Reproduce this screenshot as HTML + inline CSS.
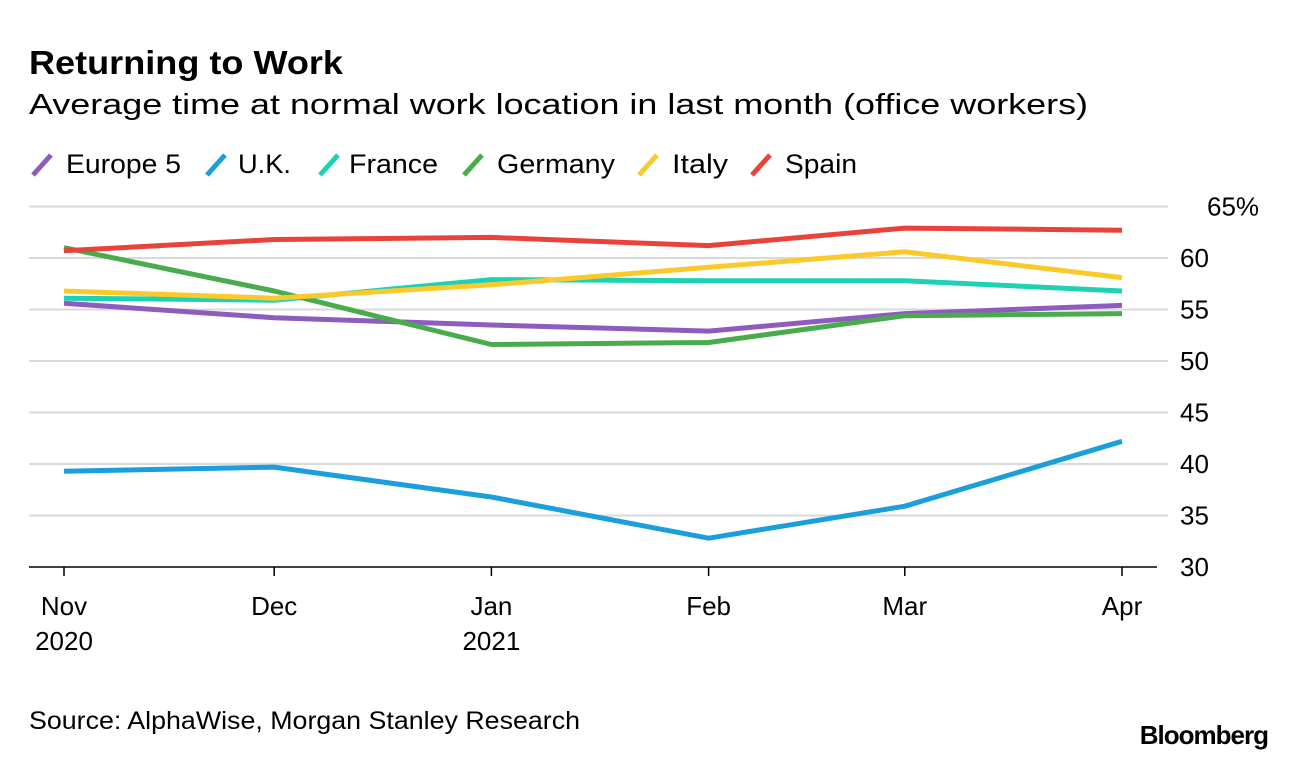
<!DOCTYPE html>
<html><head><meta charset="utf-8"><style>
html,body{margin:0;padding:0;background:#fff;width:1296px;height:760px;overflow:hidden;font-family:"Liberation Sans",Arial,sans-serif;color:#000}
</style></head><body>
<svg width="1296" height="760" xmlns="http://www.w3.org/2000/svg" font-family="Liberation Sans, Arial, sans-serif">
<text x="29" y="74" font-size="33" font-weight="bold" textLength="314" lengthAdjust="spacingAndGlyphs">Returning to Work</text>
<text x="29" y="114" font-size="29" textLength="1059" lengthAdjust="spacingAndGlyphs">Average time at normal work location in last month (office workers)</text>
<g id="legend"></g>
<g id="grid"></g>
<g id="axes"></g>
<g id="lines"></g>
<text x="29" y="729" font-size="25" textLength="551" lengthAdjust="spacingAndGlyphs">Source: AlphaWise, Morgan Stanley Research</text>
<text x="1268" y="744" font-size="26" font-weight="bold" text-anchor="end" letter-spacing="-1">Bloomberg</text>
</svg>
<script>
const months = ["Nov","Dec","Jan","Feb","Mar","Apr"];
const years = ["2020","","2021","","",""];
const dayOffsets = [0,30,61,92,120,151];
const yTicks = [30,35,40,45,50,55,60,65];
const seriesNames = ["Europe 5","U.K.","France","Germany","Italy","Spain"];
const seriesColors = ["#8e5bbf","#1a9fdc","#1cd2b2","#4aab4c","#fcc92c","#e8423a"];
const europe5 = [55.6,54.2,53.5,52.9,54.6,55.4];
const uk = [39.3,39.7,36.8,32.8,35.9,42.2];
const france = [56.1,55.9,57.9,57.8,57.8,56.8];
const germany = [61.0,56.8,51.6,51.8,54.4,54.6];
const italy = [56.8,56.1,57.4,59.1,60.6,58.1];
const spain = [60.7,61.8,62.0,61.2,62.9,62.7];
const allSeries = [europe5,uk,france,germany,italy,spain];

const NS="http://www.w3.org/2000/svg";
const X0=64, X1=1122, Y0=567, Y1=206.5, VMIN=30, VMAX=65;
const xs = d => X0 + d/151*(X1-X0);
const ys = v => Y0 - (v-VMIN)/(VMAX-VMIN)*(Y0-Y1);
function mk(tag, attrs, parent){const e=document.createElementNS(NS,tag);for(const k in attrs)e.setAttribute(k,attrs[k]);parent.appendChild(e);return e;}

const grid=document.getElementById('grid');
yTicks.forEach((t,i)=>{
  const y=ys(t);
  if(t!==VMIN){
    const l=mk('line',{x1:29,x2:1168,y1:y,y2:y,stroke:'#d9d9d9','stroke-width':2},grid);
    
    
  }
  const tx=mk('text',{x:1180,y:y+9,'font-size':26},grid);
  tx.textContent = t===65 ? '65%' : String(t);
  if(t===65) tx.setAttribute('x',1207);
  
  
});

const axes=document.getElementById('axes');
const base=mk('line',{x1:29,x2:1157,y1:Y0,y2:Y0,stroke:'#000','stroke-width':1.5},axes);


months.forEach((m,i)=>{
  const x=xs(dayOffsets[i]);
  const tk=mk('line',{x1:x,x2:x,y1:Y0,y2:Y0+9,stroke:'#000','stroke-width':1.5},axes);
  
  
  const t=mk('text',{x:x,y:615,'font-size':26,'text-anchor':'middle'},axes);
  t.textContent=m;
  
  
  if(years[i]){
    const yt=mk('text',{x:x,y:650,'font-size':26,'text-anchor':'middle'},axes);
    yt.textContent=years[i];
    
    
  }
});

const lines=document.getElementById('lines');
allSeries.forEach((vals,si)=>{
  const pts=vals.map((v,i)=>xs(dayOffsets[i]).toFixed(1)+','+ys(v).toFixed(1)).join(' ');
  const p=mk('polyline',{points:pts,fill:'none',stroke:seriesColors[si],'stroke-width':5,'stroke-linejoin':'round'},lines);
  
  
});

const legend=document.getElementById('legend');
const legIcon=[31,205,318,462,637,750];
const legText=[66,238,349,497,672,785];
const legW=[115,53,89,118,56,72];
seriesNames.forEach((n,i)=>{
  const g=mk('g',{},legend);
  
  
  mk('line',{x1:legIcon[i]+2,y1:175,x2:legIcon[i]+20,y2:155,stroke:seriesColors[i],'stroke-width':5,'stroke-linecap':'butt'},g);
  const t=mk('text',{x:legText[i],y:173,'font-size':27,textLength:legW[i],lengthAdjust:'spacingAndGlyphs'},g);
  t.textContent=n;
});
</script>
</body></html>
